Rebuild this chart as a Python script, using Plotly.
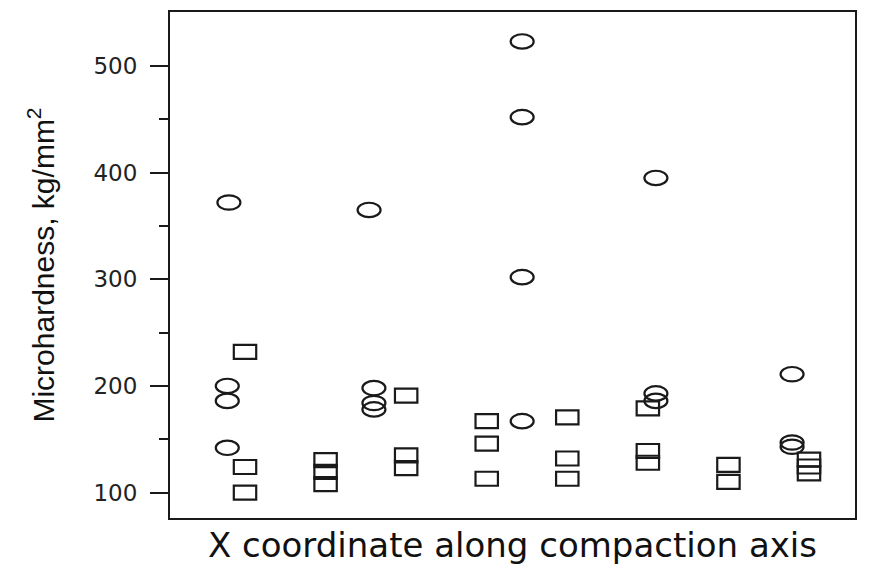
import plotly.graph_objects as go

# Data (x = position along compaction axis, arbitrary units)
circle_x = [0.80, 0.78, 0.78, 0.78, 2.54, 2.60, 2.60, 2.60, 4.44, 4.44, 4.44, 4.44,
            6.10, 6.10, 6.10, 7.79, 7.79, 7.79]
circle_y = [372, 200, 186, 142, 365, 198, 184, 178, 523, 452, 302, 167,
            395, 193, 186, 211, 147, 143]

square_x = [1, 1, 1, 2, 2, 2, 3, 3, 3, 4, 4, 4, 5, 5, 5, 6, 6, 6, 7, 7, 8, 8, 8]
square_y = [232, 124, 100, 130.5, 119.5, 108, 191, 135, 123, 167, 146, 113,
            170.5, 132, 113, 179, 139, 128, 126, 110, 131, 124.5, 118]

y_ticks = [100, 200, 300, 400, 500]
y_minor = [150, 250, 350, 450]
y_title = "Microhardness, kg/mm<sup>2</sup>"
x_title = "X coordinate along compaction axis"

INK = "#1a1a1a"

fig = go.Figure()

# carrier traces (hover), marks drawn as anchored shapes for elliptical markers
fig.add_trace(go.Scatter(x=circle_x, y=circle_y, mode="markers", name="circles",
                         marker=dict(size=14, opacity=0), showlegend=False))
fig.add_trace(go.Scatter(x=square_x, y=square_y, mode="markers", name="squares",
                         marker=dict(size=14, opacity=0), showlegend=False))

shapes = []
for xv, yv in zip(circle_x, circle_y):
    shapes.append(dict(type="circle", xref="x", yref="y", xsizemode="pixel", ysizemode="pixel",
                       xanchor=xv, yanchor=yv, x0=-11.5, x1=11.5, y0=-7.2, y1=7.2,
                       line=dict(color=INK, width=2.2), fillcolor="rgba(0,0,0,0)"))
for xv, yv in zip(square_x, square_y):
    shapes.append(dict(type="rect", xref="x", yref="y", xsizemode="pixel", ysizemode="pixel",
                       xanchor=xv, yanchor=yv, x0=-11.2, x1=11.2, y0=-7, y1=7,
                       line=dict(color=INK, width=2.2), fillcolor="rgba(0,0,0,0)"))

fig.update_layout(
    width=876, height=570,
    margin=dict(l=170, r=21, t=10, b=52, pad=0),
    paper_bgcolor="white", plot_bgcolor="white",
    shapes=shapes,
    showlegend=False,
    font=dict(family="Liberation Sans, Arial, sans-serif", color=INK),
)

fig.update_xaxes(
    range=[0.069, 8.571], showgrid=False, zeroline=False,
    showline=True, mirror=True, linecolor=INK, linewidth=2,
    ticks="", showticklabels=False,
    title=dict(text=x_title, font=dict(family="DejaVu Sans", size=34, color="#111"), standoff=14),
)

fig.update_yaxes(
    range=[76.2, 550.6], showgrid=False, zeroline=False,
    showline=True, mirror=True, linecolor=INK, linewidth=2,
    tickmode="array", tickvals=y_ticks, ticktext=[str(v) for v in y_ticks],
    ticks="outside", ticklen=18, tickwidth=2, tickcolor=INK,
    ticklabelstandoff=8,
    tickfont=dict(family="DejaVu Sans", size=23, color="#222"),
    minor=dict(tickvals=y_minor, ticks="outside", ticklen=9, tickwidth=2, tickcolor=INK),
    title=dict(text=y_title, font=dict(family="Liberation Sans", size=30, color="#111"), standoff=30),
)

fig.write_html("out.html")
